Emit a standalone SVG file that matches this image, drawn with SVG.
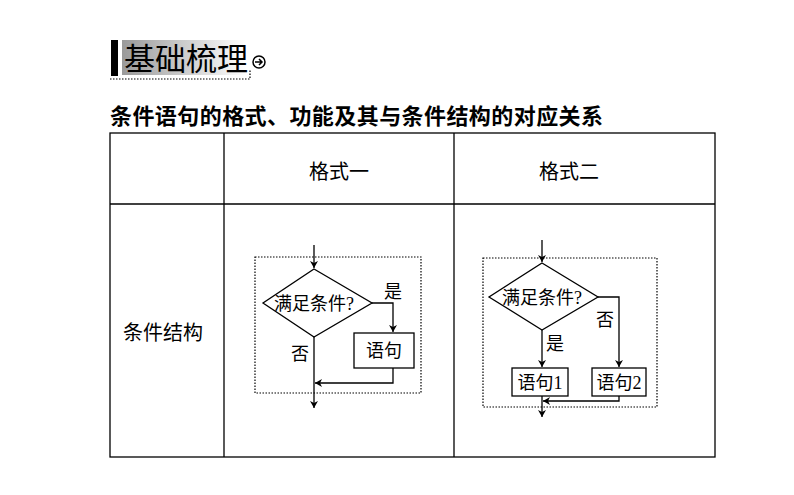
<svg xmlns="http://www.w3.org/2000/svg" width="794" height="495" viewBox="0 0 794 495">
<style>
.t{font-family:"Liberation Serif","Noto Sans CJK SC",serif;fill:#000}
.s{font-family:"Noto Sans CJK SC",sans-serif;fill:#000}
.ln{stroke:#000;stroke-width:1.3;fill:none}
.dot{stroke:#000;stroke-width:1.2;fill:none;stroke-dasharray:1.5 1.5}
.box{stroke:#000;stroke-width:1.3;fill:#fff}
</style>
<defs>
<linearGradient id="g" x1="0" x2="1"><stop offset="0" stop-color="#9a9a9a"/><stop offset="1" stop-color="#fff"/></linearGradient>
<marker id="a" markerWidth="8" markerHeight="8" refX="7" refY="4" orient="auto" markerUnits="userSpaceOnUse"><path d="M0,0 L7,4 L0,8 L2,4Z" fill="#000"/></marker>
</defs>
<rect width="794" height="495" fill="#fff"/>
<g id="header">
<rect x="111" y="40" width="7" height="36" fill="#000"/>
<rect x="122" y="40" width="124" height="35" fill="url(#g)"/>
<text x="124" y="70" class="s" font-size="31">基础梳理</text>
<path d="M110 79 H250 V70" class="dot" stroke-width="2"/>
<circle cx="259" cy="62" r="6" fill="none" stroke="#000" stroke-width="1.5"/>
<path d="M255 62 H262 M259 59 L262 62 L259 65" stroke="#000" stroke-width="1.5" fill="none"/>
</g>
<text x="110" y="124" class="s" font-size="22" font-weight="bold" textLength="493" lengthAdjust="spacing">条件语句的格式、功能及其与条件结构的对应关系</text>
<g id="table" stroke="#000" stroke-width="1.3" fill="none">
<rect x="110" y="133" width="605" height="324"/>
<line x1="224" y1="133" x2="224" y2="457"/>
<line x1="454" y1="133" x2="454" y2="457"/>
<line x1="110" y1="204" x2="715" y2="204"/>
</g>
<text x="339" y="179" class="s" font-size="20" text-anchor="middle">格式一</text>
<text x="569" y="179" class="s" font-size="20" text-anchor="middle">格式二</text>
<text x="163" y="340" class="s" font-size="20" text-anchor="middle">条件结构</text>
<g id="f1">
<rect x="255" y="257" width="166" height="136" class="dot"/>
<g id="d1"><polygon points="314,269 372,303 314,337 263,303" class="box"/><text x="314" y="310" class="t" font-size="18" text-anchor="middle">满足条件?</text></g>
<g id="b1"><rect x="354" y="333" width="60" height="35" class="box"/><text x="384" y="357" class="t" font-size="18" text-anchor="middle">语句</text></g>
<text x="384" y="298" class="t" font-size="18">是</text>
<text x="291" y="360" class="t" font-size="18">否</text>
</g>
<g id="f2">
<rect x="483" y="258" width="174" height="149" class="dot"/>
<g id="d2"><polygon points="542,263 598,297 542,330 489,297" class="box"/><text x="542" y="304" class="t" font-size="18" text-anchor="middle">满足条件?</text></g>
<g id="b2"><rect x="512" y="368" width="56" height="28" class="box"/><text x="540" y="389" class="t" font-size="18" text-anchor="middle">语句1</text></g>
<g id="b3"><rect x="592" y="368" width="54" height="28" class="box"/><text x="619" y="389" class="t" font-size="18" text-anchor="middle">语句2</text></g>
<text x="546" y="350" class="t" font-size="18">是</text>
<text x="596" y="326" class="t" font-size="18">否</text>
</g>
<g id="connectors">
<path d="M314 245 V268" class="ln" marker-end="url(#a)"/>
<path d="M372 303 H393 V332" class="ln" marker-end="url(#a)"/>
<path d="M393 368 V383 H315" class="ln" marker-end="url(#a)"/>
<path d="M314 337 V408" class="ln" marker-end="url(#a)"/>
<path d="M542 240 V262" class="ln" marker-end="url(#a)"/>
<path d="M542 330 V367" class="ln" marker-end="url(#a)"/>
<path d="M598 297 H619 V367" class="ln" marker-end="url(#a)"/>
<path d="M619 396 V401 H543" class="ln" marker-end="url(#a)"/>
<path d="M542 396 V417" class="ln" marker-end="url(#a)"/>
</g>
</svg>
